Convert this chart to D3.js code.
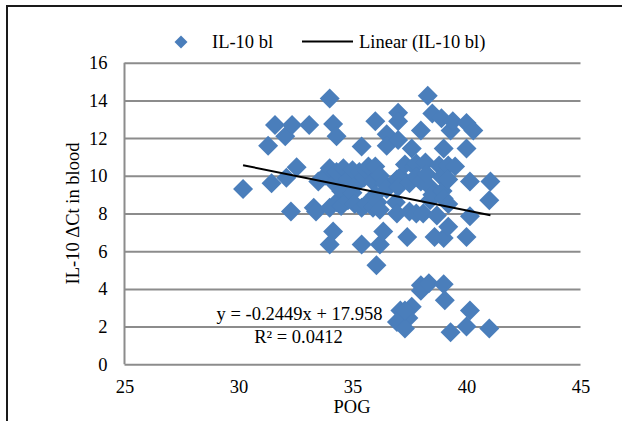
<!DOCTYPE html>
<html>
<head>
<meta charset="utf-8">
<script src="https://cdn.jsdelivr.net/npm/d3@7"></script>
<style>
  body { margin: 0; background: #fff; }
  text { font-family: "Liberation Serif", "Times New Roman", serif; fill: #000; }
</style>
</head>
<body>
<div id="chart"></div>
<script>
// Scatter - IL-10 dCt in blood against POG, with Excel-style linear trend
const pogValues = [
  30.2, 31.3, 31.45, 31.6, 32.05, 32.1, 32.35, 32.55, 32.3, 33.1,
  33.3, 33.4, 33.5, 33.8, 34.0, 34.15, 34.3, 34.15, 34.0, 34.0,
  34.0, 34.2, 34.3, 34.3, 34.5, 34.5, 34.6, 34.8, 34.8, 35.0,
  35.0, 35.1, 35.2, 35.3, 35.4, 35.4, 35.4, 35.5, 35.6, 35.6,
  35.7, 35.9, 35.9, 36.0, 36.0, 36.05, 36.0, 36.1, 36.2, 36.2,
  36.2, 36.35, 36.4, 36.5, 36.5, 36.5, 36.9, 36.95, 36.95, 37.0,
  37.0, 37.0, 37.1, 37.0, 37.3, 37.4, 37.5, 37.5, 37.6, 37.7,
  37.8, 37.8, 37.8, 38.0, 38.0, 38.1, 38.2, 38.25, 38.3, 38.4,
  38.4, 38.5, 38.5, 38.6, 38.7, 38.8, 38.9, 38.9, 38.95, 39.0,
  39.0, 39.0, 39.2, 39.2, 39.2, 39.2, 39.3, 39.4, 39.5, 40.0,
  40.0, 40.0, 40.15, 40.15, 40.3, 41.05, 41.0, 38.0, 38.0, 38.35,
  39.0, 39.05, 37.1, 37.6, 37.45, 36.95, 37.3, 37.3, 39.3, 40.0,
  40.15, 41.0
];
const il10Values = [
  9.3, 11.6, 9.6, 12.7, 12.1, 9.9, 12.7, 10.45, 8.1, 12.7,
  8.3, 8.1, 9.7, 10.0, 14.1, 12.75, 12.1, 7.05, 6.35, 10.4,
  8.3, 9.6, 10.2, 8.6, 9.2, 8.4, 10.4, 9.8, 8.7, 10.3,
  9.1, 8.5, 9.6, 10.2, 11.55, 8.3, 6.35, 9.9, 8.5, 10.3,
  10.5, 9.7, 8.3, 12.9, 10.5, 5.25, 9.0, 8.6, 10.0, 6.35,
  8.2, 7.05, 9.6, 12.2, 11.6, 9.3, 8.6, 9.8, 8.0, 13.35,
  12.9, 11.9, 9.95, 9.4, 10.6, 6.75, 9.6, 8.1, 11.45, 10.5,
  10.65, 9.95, 8.0, 12.4, 9.7, 8.0, 10.7, 10.1, 14.25, 9.4,
  8.7, 13.3, 9.0, 6.75, 7.9, 10.55, 13.05, 9.95, 9.2, 11.45,
  8.8, 6.7, 10.55, 9.8, 8.5, 7.3, 12.4, 12.9, 10.5, 12.8,
  11.45, 6.75, 9.7, 7.85, 12.4, 9.7, 8.7, 4.2, 3.9, 4.3,
  4.25, 3.4, 2.85, 3.05, 2.45, 2.25, 1.9, 2.85, 1.7, 2.0,
  2.85, 1.9
];
const xTicks = [25, 30, 35, 40, 45];
const yTicks = [0, 2, 4, 6, 8, 10, 12, 14, 16];
const trendSlope = -0.2449;
const trendIntercept = 17.958;
const trendLabel = "y = -0.2449x + 17.958";
const r2Label = "R\u00b2 = 0.0412";
const seriesName = "IL-10 bl";
const trendName = "Linear (IL-10 bl)";
const xTitle = "POG";
const yTitle = "IL-10 \u0394Ct in blood";

const W = 622, H = 421;
const margin = {top: 62.7, right: 41.5, bottom: 56.7, left: 124.5},
  width = W - margin.left - margin.right,
  height = H - margin.top - margin.bottom;
const blue = "#4a7ebb", grid = "#8c8c8c", fs = "18.5px";

const root = d3.select("#chart").append("svg")
  .attr("width", W)
  .attr("height", H);

// chart border (runs off the right and bottom edges)
root.append("rect")
  .attr("x", 7).attr("y", 6)
  .attr("width", 700).attr("height", 500)
  .attr("fill", "none")
  .attr("stroke", "#1a1a1a")
  .attr("stroke-width", 2);

const svg = root.append("g")
  .attr("transform", "translate(" + margin.left + "," + margin.top + ")");

let x = d3.scaleLinear().domain([25, 45]).range([0, width]);
let y = d3.scaleLinear().domain([0, 16]).range([height, 0]);

// y axis + gridlines
const yAxis = svg.append("g")
  .call(d3.axisLeft(y).tickValues(yTicks).tickSize(-width).tickPadding(17));
yAxis.select(".domain").remove();
yAxis.selectAll("line").attr("stroke", grid).attr("stroke-width", 2);
yAxis.selectAll("text").style("font-size", fs).style("font-family", "Liberation Serif");

// left axis line
svg.append("line")
  .attr("x1", 0).attr("x2", 0)
  .attr("y1", 0).attr("y2", height)
  .attr("stroke", grid).attr("stroke-width", 2);

// x axis
const xAxis = svg.append("g")
  .attr("transform", "translate(0," + height + ")")
  .call(d3.axisBottom(x).tickValues(xTicks).tickSize(0).tickPadding(15.5));
xAxis.select(".domain").remove();
xAxis.selectAll("text").style("font-size", fs).style("font-family", "Liberation Serif");

// points
const data = pogValues.map((p, i) => ({pog: p, il10: il10Values[i]}));
const diamond = d3.symbol().type(d3.symbolSquare).size(200);
svg.selectAll("path.pt")
  .data(data)
  .enter()
  .append("path")
    .attr("class", "pt")
    .attr("d", diamond)
    .attr("transform", d => "translate(" + x(d.pog) + "," + y(d.il10) + ") rotate(45)")
    .attr("fill", blue);

// trend line over the range of the data
const xr = d3.extent(pogValues);
svg.append("line")
  .attr("x1", x(xr[0])).attr("y1", y(trendSlope * xr[0] + trendIntercept))
  .attr("x2", x(xr[1])).attr("y2", y(trendSlope * xr[1] + trendIntercept))
  .attr("stroke", "#000").attr("stroke-width", 2);

// equation
root.append("text")
  .attr("x", 299.5).attr("y", 320)
  .attr("text-anchor", "middle")
  .style("font-size", fs)
  .text(trendLabel);
root.append("text")
  .attr("x", 298.5).attr("y", 343)
  .attr("text-anchor", "middle")
  .style("font-size", fs)
  .text(r2Label);

// axis titles
root.append("text")
  .attr("x", 352).attr("y", 413)
  .attr("text-anchor", "middle")
  .style("font-size", fs)
  .text(xTitle);
root.append("text")
  .attr("transform", "translate(78.5," + (margin.top + height / 2) + ") rotate(-90)")
  .attr("text-anchor", "middle")
  .style("font-size", fs)
  .text(yTitle);

// legend
root.append("path")
  .attr("d", d3.symbol().type(d3.symbolSquare).size(85))
  .attr("transform", "translate(181,42) rotate(45)")
  .attr("fill", blue);
root.append("text")
  .attr("x", 212).attr("y", 48)
  .style("font-size", fs)
  .text(seriesName);
root.append("line")
  .attr("x1", 302).attr("x2", 353)
  .attr("y1", 41.5).attr("y2", 41.5)
  .attr("stroke", "#000").attr("stroke-width", 2);
root.append("text")
  .attr("x", 359).attr("y", 48)
  .style("font-size", fs)
  .text(trendName);
</script>
</body>
</html>
